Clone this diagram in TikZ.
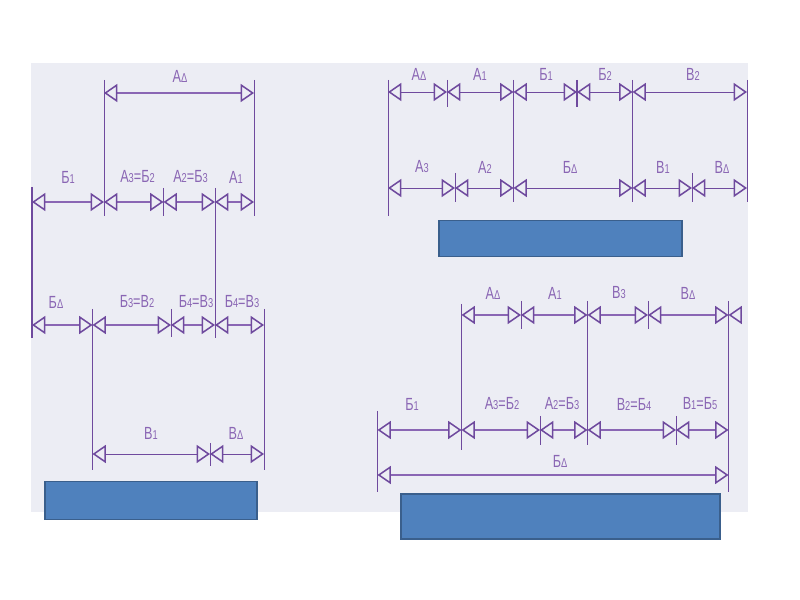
\documentclass[tikz,border=0pt]{standalone}
\usepackage{fontspec}
\setmainfont{Liberation Sans}
\usetikzlibrary{arrows.meta}
\definecolor{panelbg}{HTML}{ECEDF4}
\definecolor{dimpurple}{HTML}{6F4A9E}
\definecolor{dimlight}{HTML}{8A66B4}
\definecolor{boxblue}{HTML}{4F81BD}
\definecolor{boxedge}{HTML}{3A5F8C}
\newcommand{\dg}[1]{{\fontsize{11}{11}\selectfont #1}}
\tikzset{
	dimtip/.tip={Triangle[open,length=0.4cm,width=0.54cm,line width=1.3pt,color=dimpurple]},
	dimline/.style={{dimtip}-{dimtip},dimlight,line width=1.3pt},
	thinline/.style={{dimtip}-{dimtip},dimpurple,line width=0.8pt},
	extline/.style={dimpurple,line width=0.8pt},
	heavyline/.style={dimpurple,line width=1.3pt},
	sizelabel/.style={text=dimlight,xscale=0.72,inner sep=0pt,font=\fontsize{15}{15}\selectfont},
	bluebox/.style={draw=boxedge,fill=boxblue,line width=1.5pt,inner sep=0pt,outer sep=0pt}
}
\begin{document}
\begin{tikzpicture}[x=0.03cm,y=-0.03cm]
	\useasboundingbox (0,0) rectangle (800,600);
	\fill[white] (0,0) rectangle (800,600);
	\fill[panelbg] (31,63) rectangle (748,512);

	% left group, top rows
	\coordinate (la) at (104,93);
	\coordinate (lb) at (254,93);
	\coordinate (ra) at (32,202);
	\coordinate (rb) at (104,202);
	\coordinate (rc) at (163.5,202);
	\coordinate (rd) at (215,202);
	\coordinate (re) at (254,202);
	\draw[extline] (104,80) -- (104,216);
	\draw[extline] (254,80) -- (254,216);
	\draw[heavyline] (32,187) -- (32,338);
	\draw[extline] (163.5,188) -- (163.5,216);
	\draw[extline] (215,188) -- (215,338);
	\draw[dimline] (la) -- (lb);
	\draw[dimline] (ra) -- (rb);
	\draw[dimline] (rb) -- (rc);
	\draw[dimline] (rc) -- (rd);
	\draw[dimline] (rd) -- (re);
	\node[sizelabel] (tAd) at (180,76) {А\dg{Δ}};
	\node[sizelabel] (tBa) at (68,177) {Б\dg{1}};
	\node[sizelabel] (tAc) at (137.5,177) {А\dg{3}=Б\dg{2}};
	\node[sizelabel] (tAb) at (190.5,177) {А\dg{2}=Б\dg{3}};
	\node[sizelabel] (tAa) at (236,177) {А\dg{1}};

	% left group, lower rows
	\coordinate (sa) at (32,325);
	\coordinate (sb) at (92.5,325);
	\coordinate (sc) at (171,325);
	\coordinate (sd) at (215,325);
	\coordinate (se) at (264,325);
	\coordinate (ua) at (92.5,454);
	\coordinate (ub) at (210,454);
	\coordinate (uc) at (264,454);
	\draw[extline] (92.5,309) -- (92.5,470);
	\draw[extline] (171,309) -- (171,337);
	\draw[extline] (264,309) -- (264,470);
	\draw[extline] (210,443) -- (210,466);
	\draw[dimline] (sa) -- (sb);
	\draw[dimline] (sb) -- (sc);
	\draw[dimline] (sc) -- (sd);
	\draw[dimline] (sd) -- (se);
	\draw[thinline] (ua) -- (ub);
	\draw[thinline] (ub) -- (uc);
	\node[sizelabel] (tBd) at (56,302) {Б\dg{Δ}};
	\node[sizelabel] (tBc) at (137,302) {Б\dg{3}=В\dg{2}};
	\node[sizelabel] (tBe) at (196,302) {Б\dg{4}=В\dg{3}};
	\node[sizelabel] (tBf) at (242,302) {Б\dg{4}=В\dg{3}};
	\node[sizelabel] (tVa) at (151,433) {В\dg{1}};
	\node[sizelabel] (tVd) at (236,433) {В\dg{Δ}};
	\node[bluebox,minimum width=6.38cm,minimum height=1.14cm] (boxL) at (151,500.5) {};

	% top right group
	\coordinate (pa) at (388,92);
	\coordinate (pb) at (447,92);
	\coordinate (pc) at (513.5,92);
	\coordinate (pd) at (577,92);
	\coordinate (pe) at (632.5,92);
	\coordinate (pf) at (747,92);
	\coordinate (qa) at (388,188);
	\coordinate (qb) at (455,188);
	\coordinate (qc) at (513.5,188);
	\coordinate (qd) at (632.5,188);
	\coordinate (qe) at (692,188);
	\coordinate (qf) at (747,188);
	\draw[extline] (388,80) -- (388,216);
	\draw[extline] (447,80) -- (447,107);
	\draw[extline] (513.5,80) -- (513.5,202);
	\draw[heavyline] (577,80) -- (577,107);
	\draw[extline] (632.5,80) -- (632.5,202);
	\draw[extline] (747,80) -- (747,202);
	\draw[extline] (455,173) -- (455,202);
	\draw[extline] (692,173) -- (692,202);
	\draw[thinline] (pa) -- (pb);
	\draw[thinline] (pb) -- (pc);
	\draw[thinline] (pc) -- (pd);
	\draw[thinline] (pd) -- (pe);
	\draw[thinline] (pe) -- (pf);
	\draw[thinline] (qa) -- (qb);
	\draw[thinline] (qb) -- (qc);
	\draw[thinline] (qc) -- (qd);
	\draw[thinline] (qd) -- (qe);
	\draw[thinline] (qe) -- (qf);
	\node[sizelabel] (nAd) at (419,74) {А\dg{Δ}};
	\node[sizelabel] (nAa) at (480,74) {А\dg{1}};
	\node[sizelabel] (nBa) at (546,74) {Б\dg{1}};
	\node[sizelabel] (nBb) at (605,74) {Б\dg{2}};
	\node[sizelabel] (nVb) at (693,74) {В\dg{2}};
	\node[sizelabel] (nAc) at (422,167) {А\dg{3}};
	\node[sizelabel] (nAb) at (485,167) {А\dg{2}};
	\node[sizelabel] (nBd) at (570,167) {Б\dg{Δ}};
	\node[sizelabel] (nVa) at (663,167) {В\dg{1}};
	\node[sizelabel] (nVd) at (722,167) {В\dg{Δ}};
	\node[bluebox,minimum width=7.28cm,minimum height=1.08cm] (boxT) at (560.5,238.5) {};

	% bottom right group
	\coordinate (ma) at (461.5,315);
	\coordinate (mb) at (521,315);
	\coordinate (mc) at (587.5,315);
	\coordinate (md) at (648,315);
	\coordinate (me) at (728.5,315);
	\coordinate (mf) at (742,315);
	\coordinate (ka) at (377.5,430);
	\coordinate (kb) at (461.5,430);
	\coordinate (kc) at (540,430);
	\coordinate (kd) at (587.5,430);
	\coordinate (ke) at (676,430);
	\coordinate (kf) at (728.5,430);
	\coordinate (ha) at (377.5,475);
	\coordinate (hb) at (728.5,475);
	\draw[extline] (461.5,304) -- (461.5,450);
	\draw[extline] (521,301) -- (521,329);
	\draw[extline] (587.5,301) -- (587.5,445);
	\draw[extline] (648,301) -- (648,329);
	\draw[extline] (728.5,301) -- (728.5,492);
	\draw[extline] (377.5,411) -- (377.5,492);
	\draw[extline] (540,416) -- (540,445);
	\draw[extline] (676,416) -- (676,445);
	\draw[dimline] (ma) -- (mb);
	\draw[dimline] (mb) -- (mc);
	\draw[dimline] (mc) -- (md);
	\draw[dimline] (md) -- (me);
	\draw[-{dimtip}] (mf) -- (me);
	\draw[dimline] (ka) -- (kb);
	\draw[dimline] (kb) -- (kc);
	\draw[dimline] (kc) -- (kd);
	\draw[dimline] (kd) -- (ke);
	\draw[dimline] (ke) -- (kf);
	\draw[dimline] (ha) -- (hb);
	\node[sizelabel] (mAd) at (493,293) {А\dg{Δ}};
	\node[sizelabel] (mAa) at (555,293) {А\dg{1}};
	\node[sizelabel] (mVc) at (619,293) {В\dg{3}};
	\node[sizelabel] (mVd) at (688,293) {В\dg{Δ}};
	\node[sizelabel] (mBa) at (412,404) {Б\dg{1}};
	\node[sizelabel] (mAc) at (502,404) {А\dg{3}=Б\dg{2}};
	\node[sizelabel] (mAb) at (562,404) {А\dg{2}=Б\dg{3}};
	\node[sizelabel] (mVb) at (634,404) {В\dg{2}=Б\dg{4}};
	\node[sizelabel] (mVe) at (700,404) {В\dg{1}=Б\dg{5}};
	\node[sizelabel] (mBd) at (560,461) {Б\dg{Δ}};
	\node[bluebox,minimum width=9.58cm,minimum height=1.33cm] (boxB) at (560.5,516.5) {};
\end{tikzpicture}
\end{document}
